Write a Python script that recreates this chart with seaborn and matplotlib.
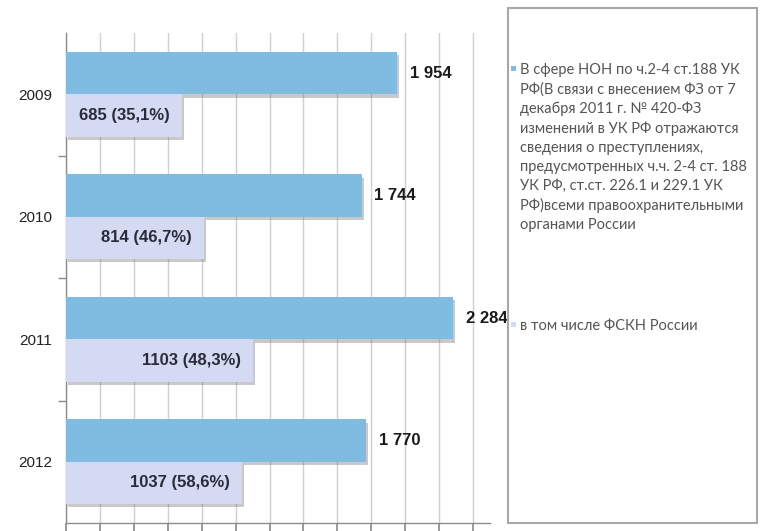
import matplotlib
matplotlib.use("Agg")
import matplotlib.pyplot as plt
import matplotlib.patheffects as pe
from matplotlib.patches import Rectangle
from matplotlib.ticker import FixedLocator, NullFormatter
import seaborn as sns
import pandas as pd

years = ["2009", "2010", "2011", "2012"]
total_values = [1954, 1744, 2284, 1770]
fskn_values = [685, 814, 1103, 1037]
fskn_share = ["35,1%", "46,7%", "48,3%", "58,6%"]
series_names = [
    "В сфере НОН по ч.2-4 ст.188 УК\nРФ(В связи с внесением ФЗ от 7\nдекабря 2011 г. № 420-ФЗ\n"
    "изменений в УК РФ отражаются\nсведения о преступлениях,\nпредусмотренных ч.ч. 2-4 ст. 188\n"
    "УК РФ, ст.ст. 226.1 и 229.1 УК\nРФ)всеми правоохранительными\nорганами России",
    "в том числе ФСКН России",
]
colors = ["#80bbe2", "#d3daf1"]

df = pd.DataFrame({
    "year": years * 2,
    "value": total_values + fskn_values,
    "series": [series_names[0]] * 4 + [series_names[1]] * 4,
})

sns.set_theme(style="white")
plt.rcParams["font.family"] = ["Liberation Sans Narrow", "Liberation Sans", "DejaVu Sans"]

fig = plt.figure(figsize=(7.6, 5.31), dpi=100)
ax = fig.add_axes([66 / 760, 1 - 523 / 531, (490 - 66) / 760, (523 - 33) / 531])

sns.barplot(data=df, x="value", y="year", hue="series", orient="h",
            palette=colors, width=0.69, saturation=1, legend=False, ax=ax,
            edgecolor="none", zorder=3)

shadow = [pe.SimplePatchShadow(offset=(1.5, -2.5), shadow_rgbFace="#666666", alpha=0.35), pe.Normal()]
for p in ax.patches:
    p.set_path_effects(shadow)

ax.set_xlim(0, 2500)
ax.set_ylim(3.5, -0.5)
ax.xaxis.set_major_locator(FixedLocator(list(range(0, 2401, 200))))
ax.xaxis.set_major_formatter(NullFormatter())
ax.grid(axis="x", color="#cfcfcf", linewidth=1, zorder=0)
ax.grid(axis="y", visible=False)
ax.set_xlabel("")
ax.set_ylabel("")
for s in ["top", "right"]:
    ax.spines[s].set_visible(False)
for s in ["left", "bottom"]:
    ax.spines[s].set_color("#8c8c8c")
    ax.spines[s].set_linewidth(1)
ax.tick_params(axis="x", which="major", length=6, color="#8c8c8c", direction="out", bottom=True)
ax.tick_params(axis="y", which="major", length=0, labelsize=11, labelcolor="#222222", pad=10)
ax.yaxis.set_minor_locator(FixedLocator([0.5, 1.5, 2.5]))
ax.tick_params(axis="y", which="minor", length=6, color="#8c8c8c", left=True)

bar_off = 0.69 / 4
for i, (t, f, sh) in enumerate(zip(total_values, fskn_values, fskn_share)):
    ax.annotate(f"{t // 1000} {t % 1000:03d}", xy=(t, i - bar_off), xytext=(9, 0),
                textcoords="offset points", ha="left", va="center",
                fontsize=12, fontweight="bold", color="#1a1a1a", zorder=5)
    ax.annotate(f"{f} ({sh})", xy=(f, i + bar_off), xytext=(-9, 0),
                textcoords="offset points", ha="right", va="center",
                fontsize=12, fontweight="bold", color="#2a2a3a", zorder=5)

# legend box
fig.add_artist(Rectangle((508 / 760, 1 - 523 / 531), (757 - 508) / 760, (523 - 8) / 531,
                         transform=fig.transFigure, facecolor="white",
                         edgecolor="#a8a8a8", linewidth=1.5, zorder=1))
leg_font = ["Lato", "DejaVu Sans"]
entries = [(series_names[0], colors[0], 71), (series_names[1], colors[1], 327)]
for text, col, ypix in entries:
    fig.add_artist(Rectangle((511 / 760, 1 - ypix / 531), 5 / 760, 5 / 531,
                             transform=fig.transFigure, facecolor=col, edgecolor="none", zorder=2))
    fig.text(520 / 760, 1 - (ypix - 8) / 531, text, ha="left", va="top",
             fontsize=10.5, color="#555555", family=leg_font, linespacing=1.45, zorder=3)

fig.savefig("out.png", dpi=100)
